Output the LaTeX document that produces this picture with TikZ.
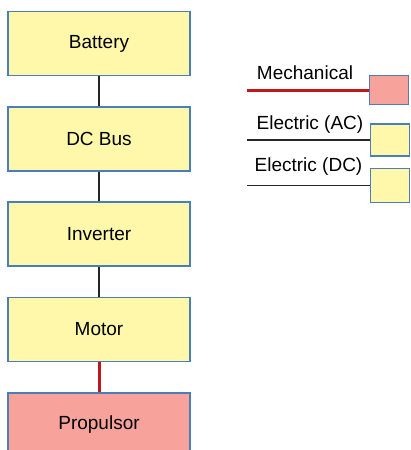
\documentclass[tikz,border=0pt]{standalone}
\usepackage{fontspec}
\setmainfont{Liberation Sans}
\usetikzlibrary{positioning}
\definecolor{boxyellow}{HTML}{FFF8AA}
\definecolor{boxpink}{HTML}{F7A29B}
\definecolor{boxblue}{HTML}{4A7EBB}
\definecolor{mechred}{HTML}{C0161E}
\tikzset{
  block/.style={draw=boxblue,line width=1.6pt,fill=boxyellow,minimum width=182pt,
    minimum height=64pt,inner sep=0pt,font=\fontsize{19}{23}\selectfont},
  mechblock/.style={block,fill=boxpink},
  key/.style={draw=boxblue,line width=1.6pt,fill=boxyellow,minimum width=39pt,inner sep=0pt},
  elec/.style={line width=1.6pt,black!85},
  mech/.style={line width=3pt,mechred},
  keytext/.style={font=\fontsize{19}{23}\selectfont,inner sep=0pt}
}

\begin{document}
\begin{tikzpicture}[x=1pt,y=-1pt,node distance=30pt]
    \useasboundingbox (0,0) rectangle (410,450);

    % drive train
    \node[block] (bat) at (99,43.5) {Battery};
    \node[block] (bus) [below=of bat] {DC Bus};
    \node[block] (inv) [below=29pt of bus] {Inverter};
    \node[block] (mot) [below=of inv] {Motor};
    \node[mechblock] (prop) [below=of mot] {Propulsor};
    \path[elec]
        (bat) edge (bus)
        (bus) edge (inv)
        (inv) edge (mot);
    \draw[mech] (mot) -- (prop);

    % legend
    \node[key,fill=boxpink,minimum height=29pt] (kmech) at (389,90) {};
    \node[key,minimum height=32pt] (kac) at (390,140) {};
    \node[key,minimum height=34pt] (kdc) at (390,185.5) {};
    \coordinate (lmech) at (247,90);
    \coordinate (lac) at (247,140);
    \coordinate (ldc) at (247,185.5);
    \draw[mech] (lmech) -- (kmech);
    \draw[elec] (lac) -- (kac);
    \draw[elec] (ldc) -- (kdc);
    \node[keytext] (tmech) at (305,73) {Mechanical};
    \node[keytext] (tac) at (310,124.5) {Electric (AC)};
    \node[keytext] (tdc) at (308.5,167) {Electric (DC)};
\end{tikzpicture}
\end{document}
